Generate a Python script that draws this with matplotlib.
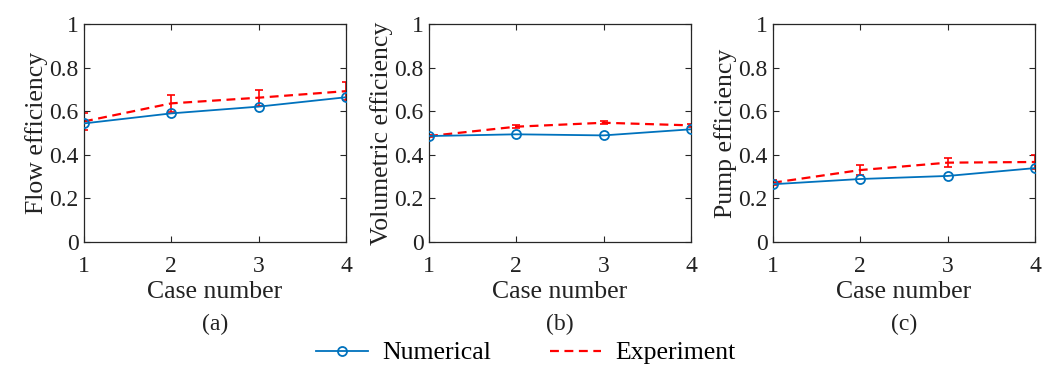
import matplotlib
matplotlib.use("Agg")
import matplotlib.pyplot as plt
from matplotlib.lines import Line2D

plt.rcParams['font.family'] = ['Liberation Serif', 'DejaVu Serif']
plt.rcParams['mathtext.fontset'] = 'stix'

cases = [1, 2, 3, 4]

flow_num = [0.544, 0.590, 0.621, 0.664]
flow_exp = [0.553, 0.636, 0.662, 0.692]
flow_err = [0.040, 0.040, 0.036, 0.041]

vol_num = [0.486, 0.494, 0.489, 0.517]
vol_exp = [0.486, 0.529, 0.547, 0.535]
vol_err = [0.006, 0.008, 0.008, 0.008]

pump_num = [0.265, 0.289, 0.303, 0.339]
pump_exp = [0.272, 0.330, 0.364, 0.367]
pump_err = [0.012, 0.023, 0.020, 0.030]

ylabels = ["Flow efficiency", "Volumetric efficiency", "Pump efficiency"]
panel_tags = ["(a)", "(b)", "(c)"]
yticks = [0, 0.2, 0.4, 0.6, 0.8, 1]
ytick_labels = ["0", "0.2", "0.4", "0.6", "0.8", "1"]

BLUE = "#0072BD"
RED = "#FF0000"
AXC = "#262626"
TXT = "#222222"

W, H = 1052, 370
fig = plt.figure(figsize=(W / 100, H / 100), dpi=100)

lefts = [84, 429, 773]
ax_w, ax_top, ax_bot = 262, 24, 242

series = [(flow_num, flow_exp, flow_err),
          (vol_num, vol_exp, vol_err),
          (pump_num, pump_exp, pump_err)]

for i, (num, exp, err) in enumerate(series):
    ax = fig.add_axes([lefts[i] / W, 1 - ax_bot / H, ax_w / W, (ax_bot - ax_top) / H])
    ax.errorbar(cases, exp, yerr=err, color=RED, linestyle=(0, (4, 2.5)),
                linewidth=1.6, capsize=3, elinewidth=1.2, capthick=1.2, zorder=2)
    ax.plot(cases, num, color=BLUE, linewidth=1.3, marker='o', markersize=6.5,
            markerfacecolor='none', markeredgewidth=1.3, markeredgecolor=BLUE, zorder=3)
    ax.set_xlim(1, 4)
    ax.set_ylim(0, 1)
    ax.set_xticks(cases)
    ax.set_yticks(yticks)
    ax.set_yticklabels(ytick_labels)
    ax.tick_params(direction='in', top=True, right=True, length=4, width=0.8,
                   colors=AXC, labelsize=17, labelcolor=TXT)
    ax.tick_params(axis='x', pad=10)
    ax.tick_params(axis='y', pad=4)
    for s in ax.spines.values():
        s.set_color(AXC)
        s.set_linewidth(0.9)
    ax.set_xlabel("Case number", fontsize=18.5, color=TXT, labelpad=3)
    ax.set_ylabel(ylabels[i], fontsize=18.5, color=TXT, labelpad=1)
    ax.text(0.5, -0.33, panel_tags[i], transform=ax.transAxes, ha='center',
            va='top', fontsize=17, color=TXT)

handles = [
    Line2D([0], [0], color=BLUE, linewidth=1.3, marker='o', markersize=6.5,
           markerfacecolor='none', markeredgewidth=1.3),
    Line2D([0], [0], color=RED, linewidth=1.6, linestyle=(0, (4, 2.5))),
]
fig.legend(handles, ["Numerical", "Experiment"], loc='center',
           bbox_to_anchor=(0.5, 1 - 353 / H), ncol=2, frameon=False,
           fontsize=18.5, handlelength=2.0, columnspacing=2.3, handletextpad=0.55,
           borderpad=0.0)

fig.savefig("out.png", dpi=100)
